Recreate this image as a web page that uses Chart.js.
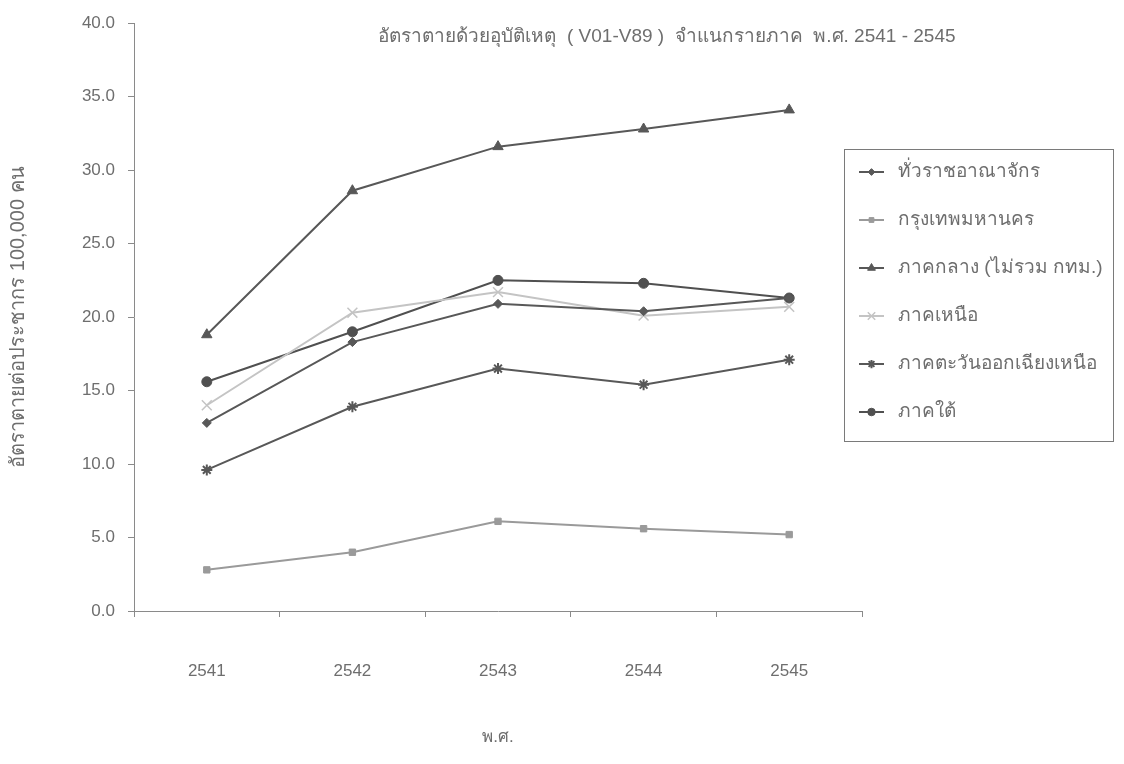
<!DOCTYPE html>
<html>
<head>
<meta charset="utf-8">
<script src="https://cdn.jsdelivr.net/npm/chart.js@4/dist/chart.umd.min.js"></script>
<style>
  html, body { margin: 0; padding: 0; background: #ffffff; }
  #wrap { width: 1124px; height: 764px; }
</style>
</head>
<body>
<div id="wrap"><canvas id="c" width="1124" height="764"></canvas></div>
<script>
// Accident death rate per 100,000 population by region, B.E. 2541-2545
const years = ['2541', '2542', '2543', '2544', '2545'];

const seriesNames = [
  'ทั่วราชอาณาจักร',
  'กรุงเทพมหานคร',
  'ภาคกลาง (ไม่รวม กทม.)',
  'ภาคเหนือ',
  'ภาคตะวันออกเฉียงเหนือ',
  'ภาคใต้'
];

const wholeKingdom = [12.8, 18.3, 20.9, 20.4, 21.3];
const bangkok      = [2.8, 4.0, 6.1, 5.6, 5.2];
const central      = [18.8, 28.6, 31.6, 32.8, 34.1];
const north        = [14.0, 20.3, 21.7, 20.1, 20.7];
const northeast    = [9.6, 13.9, 16.5, 15.4, 17.1];
const south        = [15.6, 19.0, 22.5, 22.3, 21.3];

const yTicks = { min: 0, max: 40, step: 5 };

const titleText = 'อัตราตายด้วยอุบัติเหตุ  ( V01-V89 )  จำแนกรายภาค  พ.ศ. 2541 - 2545';
const yTitle = 'อัตราตายต่อประชากร 100,000 คน';
const xTitle = 'พ.ศ.';

const FONT = "'Liberation Sans', Arial, 'DejaVu Sans', sans-serif";
const TEXT = '#6e6e6e';
const AXIS = '#8a8a8a';

function series(label, data, color, style, radius, borderWidth) {
  return {
    label, data,
    borderColor: color,
    backgroundColor: color,
    borderWidth: 2,
    pointStyle: style,
    pointRadius: radius,
    pointHoverRadius: radius,
    pointBorderWidth: borderWidth,
    pointBorderColor: color,
    pointBackgroundColor: color,
    tension: 0,
    fill: false
  };
}

const datasets = [
  series(seriesNames[0], wholeKingdom, '#585858', 'rectRot', 4.5, 1),
  series(seriesNames[1], bangkok, '#9a9a9a', 'rect', 4.5, 1),
  series(seriesNames[2], central, '#585858', 'triangle', 6, 1),
  series(seriesNames[3], north, '#c4c4c4', 'crossRot', 7, 1.5),
  series(seriesNames[4], northeast, '#585858', 'star', 5.5, 2),
  series(seriesNames[5], south, '#505050', 'circle', 5, 1)
];

// Boxed legend on the right plus the heading
const boxLegend = {
  id: 'boxLegend',
  afterDraw(chart) {
    const ctx = chart.ctx;
    ctx.save();
    // heading
    ctx.font = '19px ' + FONT;
    ctx.fillStyle = TEXT;
    ctx.textAlign = 'center';
    ctx.textBaseline = 'middle';
    ctx.fillText(titleText, 667, 37);

    // legend frame
    const bx = 844, by = 149, bw = 269, bh = 292;
    ctx.strokeStyle = '#7a7a7a';
    ctx.lineWidth = 1;
    ctx.strokeRect(bx + 0.5, by + 0.5, bw, bh);

    chart.data.datasets.forEach((ds, i) => {
      const y = 172 + i * 48;
      ctx.strokeStyle = ds.borderColor;
      ctx.lineWidth = 2;
      ctx.beginPath();
      ctx.moveTo(859, y);
      ctx.lineTo(884, y);
      ctx.stroke();
      ctx.fillStyle = ds.pointBackgroundColor;
      ctx.strokeStyle = ds.pointBorderColor;
      ctx.lineWidth = ds.pointBorderWidth;
      Chart.helpers.drawPoint(ctx, {
        pointStyle: ds.pointStyle,
        radius: ds.pointRadius * 0.75,
        rotation: 0,
        borderWidth: ds.pointBorderWidth
      }, 871.5, y);
      ctx.fillStyle = TEXT;
      ctx.font = '19px ' + FONT;
      ctx.textAlign = 'left';
      ctx.textBaseline = 'middle';
      ctx.fillText(ds.label, 898, y);
    });
    ctx.restore();
  }
};

new Chart(document.getElementById('c'), {
  type: 'line',
  data: { labels: years, datasets },
  options: {
    responsive: false,
    animation: false,
    devicePixelRatio: 1,
    layout: { padding: { left: 0, top: 18, right: 262, bottom: 0 } },
    plugins: {
      legend: { display: false },
      title: { display: false },
      tooltip: { enabled: false }
    },
    scales: {
      x: {
        type: 'category',
        offset: true,
        grid: { display: true, drawOnChartArea: false, offset: true, tickLength: 6, color: AXIS, lineWidth: 1 },
        border: { display: true, color: AXIS, width: 1 },
        ticks: { color: TEXT, font: { family: FONT, size: 17 }, padding: 44, maxRotation: 0 },
        title: { display: true, text: xTitle, color: TEXT, font: { family: FONT, size: 17 }, padding: { top: 0, bottom: 16 } },
        afterFit(scale) { scale.height = 153; }
      },
      y: {
        min: yTicks.min,
        max: yTicks.max,
        grid: { display: true, drawOnChartArea: false, tickLength: 6, color: AXIS, lineWidth: 1 },
        border: { display: true, color: AXIS, width: 1 },
        ticks: {
          stepSize: yTicks.step,
          color: TEXT,
          font: { family: FONT, size: 17 },
          padding: 13,
          callback: (v) => Number(v).toFixed(1)
        },
        title: { display: true, text: yTitle, color: TEXT, font: { family: FONT, size: 20 }, padding: { top: 6, bottom: 0 } },
        afterFit(scale) { scale.width = 134; }
      }
    }
  },
  plugins: [boxLegend]
});
</script>
</body>
</html>
